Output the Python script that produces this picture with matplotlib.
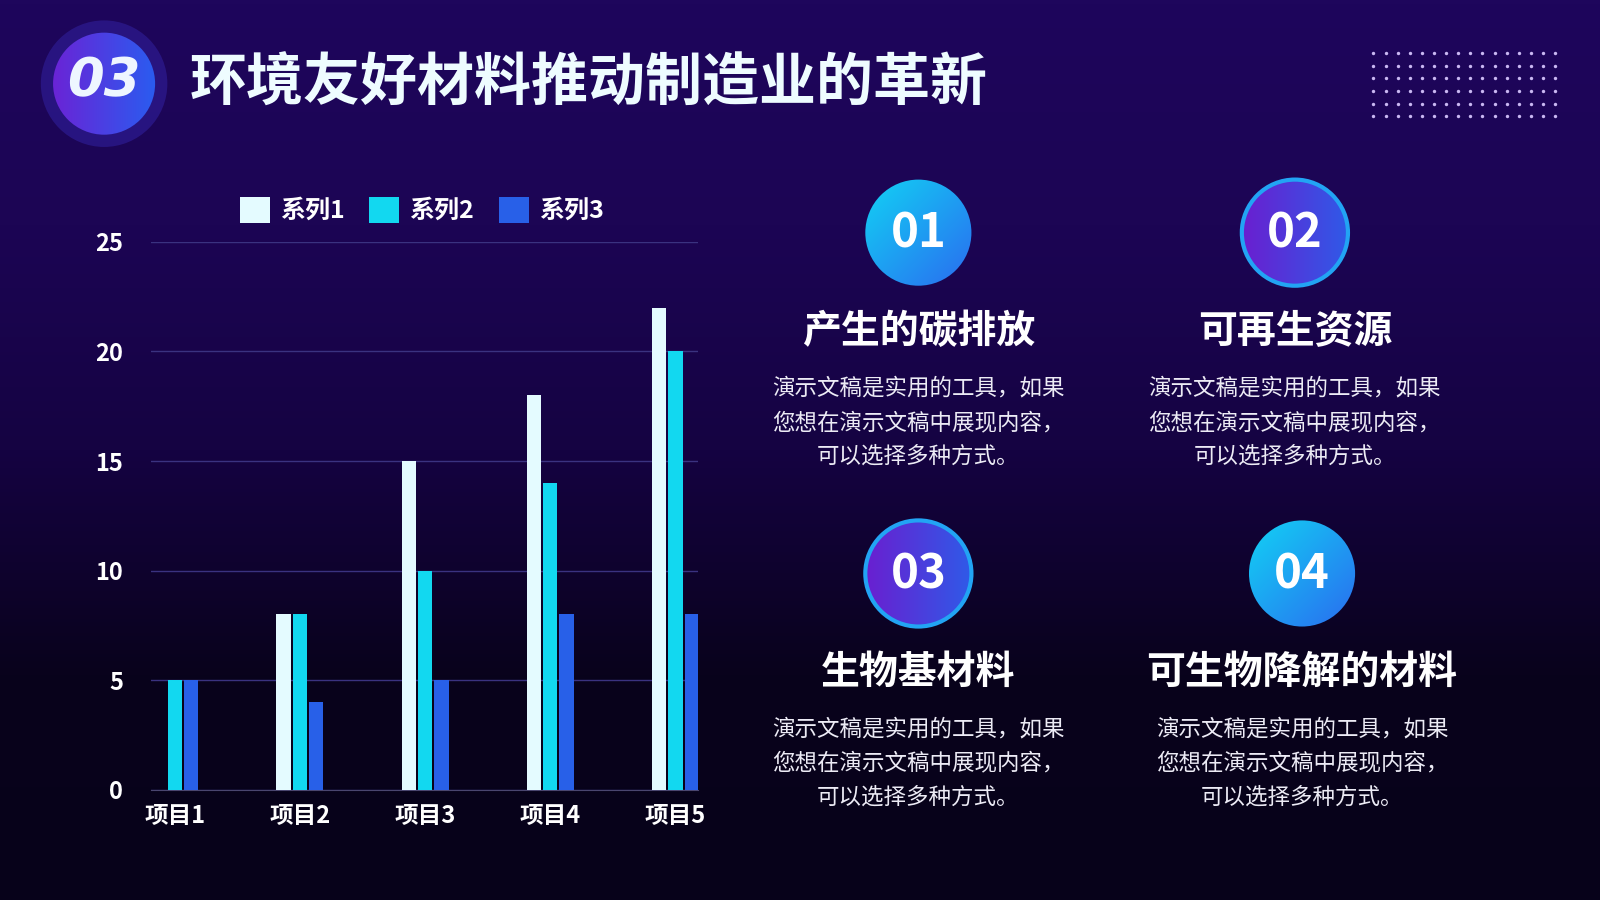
import numpy as np
import matplotlib
matplotlib.use("Agg")
import matplotlib.pyplot as plt
from matplotlib.patches import Circle
from matplotlib.colors import LinearSegmentedColormap

plt.rcParams["font.family"] = ["Noto Sans CJK SC", "DejaVu Sans"]

# data
categories = ["项目1", "项目2", "项目3", "项目4", "项目5"]
series_names = ["系列1", "系列2", "系列3"]
series1 = [0, 8, 15, 18, 22]
series2 = [5, 8, 10, 14, 20]
series3 = [5, 4, 5, 8, 8]
series_colors = ["#e4fbff", "#12d8f0", "#2860e8"]

title = "环境友好材料推动制造业的革新"
section_no = "03"
card_nums = ["01", "02", "03", "04"]
card_titles = ["产生的碳排放", "可再生资源", "生物基材料", "可生物降解的材料"]
card_body = "演示文稿是实用的工具，如果\n您想在演示文稿中展现内容，\n可以选择多种方式。"

W, H = 1568, 882
fig = plt.figure(figsize=(16, 9), dpi=100)

# background with vertical gradient
bg = fig.add_axes([0, 0, 1, 1])
bg.set_xlim(0, W)
bg.set_ylim(H, 0)
bg.axis("off")
bg_cmap = LinearSegmentedColormap.from_list(
    "bg", ["#1e065c", "#1c0554", "#150342", "#09021c", "#07021a"])
grad = np.linspace(0, 1, 256).reshape(-1, 1)
bg.imshow(grad, cmap=bg_cmap, extent=[0, W, H, 0], aspect="auto", zorder=0)


def grad_circle(ax, cx, cy, r, colors, direction="h", edge=None, lw=0):
    cmap = LinearSegmentedColormap.from_list("c", colors)
    xx, yy = np.meshgrid(np.linspace(0, 1, 200), np.linspace(0, 1, 200))
    if direction == "h":
        g = xx
    else:
        g = (xx + yy) / 2
    im = ax.imshow(g, cmap=cmap, extent=[cx - r, cx + r, cy + r, cy - r],
                   aspect="auto", zorder=2)
    c = Circle((cx, cy), r, transform=ax.transData, facecolor="none")
    ax.add_patch(c)
    im.set_clip_path(c)
    if edge:
        ax.add_patch(Circle((cx, cy), r, facecolor="none", edgecolor=edge,
                            linewidth=lw, zorder=3))


# header badge
bg.add_patch(Circle((102, 82), 62, facecolor="#2c1a8e", alpha=0.75, zorder=1))
grad_circle(bg, 102, 82, 50, ["#6a24d6", "#2a5cf0"])
bg.text(102, 80, section_no, color="#eef6ff", fontsize=38, fontweight="bold",
        fontstyle="italic", family="DejaVu Sans", ha="center", va="center", zorder=4)
bg.text(186, 82, title, color="#eefcff", fontsize=41, fontweight="heavy",
        ha="left", va="center", zorder=4)

# dot grid decoration
dx, dy = np.meshgrid(np.linspace(1346, 1524, 16), np.linspace(52, 114, 6))
bg.scatter(dx.ravel(), dy.ravel(), s=6, color="#c9b8f2", zorder=2, linewidths=0)

# cards
card_pos = [(900, 228), (1269, 228), (900, 562), (1276, 562)]
card_style = [
    (["#12d2f4", "#2a6cf0"], "d", None),
    (["#6a1fd0", "#2f5ae8"], "h", "#22a4f4"),
    (["#6a1fd0", "#2f5ae8"], "h", "#22a4f4"),
    (["#12d2f4", "#2a6cf0"], "d", None),
]
for (cx, cy), num, head, (cols, d, edge) in zip(card_pos, card_nums, card_titles, card_style):
    grad_circle(bg, cx, cy, 52, cols, direction=d, edge=edge, lw=3)
    bg.text(cx, cy + 1, num, color="white", fontsize=34, fontweight="heavy",
            ha="center", va="center", zorder=4)
    bg.text(cx, cy + 97, head, color="white", fontsize=28, fontweight="heavy",
            ha="center", va="center", zorder=4)
    bg.text(cx, cy + 186, card_body, color="#ecebf5", fontsize=16.2,
            ha="center", va="center", multialignment="center",
            linespacing=1.62, zorder=4)

# bar chart
ax = fig.add_axes([148 / W, 1 - 774 / H, (684 - 148) / W, (774 - 237) / H])
ax.set_facecolor("none")
x = np.arange(len(categories))
bw = 0.115
offs = [-0.13, 0, 0.13]
for vals, name, col, o in zip([series1, series2, series3], series_names, series_colors, offs):
    ax.bar(x + o, vals, width=bw, color=col, label=name, zorder=3)

ax.set_xlim(-0.19, 4.18)
ax.set_ylim(0, 25)
ax.set_yticks([0, 5, 10, 15, 20, 25])
ax.set_xticks(x)
ax.set_xticklabels(categories)
ax.grid(axis="y", color="#3a3280", linewidth=1, zorder=0)
for s in ["top", "right", "left"]:
    ax.spines[s].set_visible(False)
ax.spines["bottom"].set_color("#4a4670")
ax.tick_params(axis="both", length=0, colors="white", labelsize=17)
ax.tick_params(axis="y", pad=20)
ax.tick_params(axis="x", pad=10)
for lbl in ax.get_xticklabels() + ax.get_yticklabels():
    lbl.set_fontweight("heavy")

leg = ax.legend(loc="center", bbox_to_anchor=(0.495, 1.058), ncol=3, frameon=False,
                handlelength=1.2, handleheight=1.2, handletextpad=0.4,
                columnspacing=1.0, prop={"size": 18, "weight": "heavy"})
for t in leg.get_texts():
    t.set_color("white")

fig.savefig("out.png", dpi=100)
